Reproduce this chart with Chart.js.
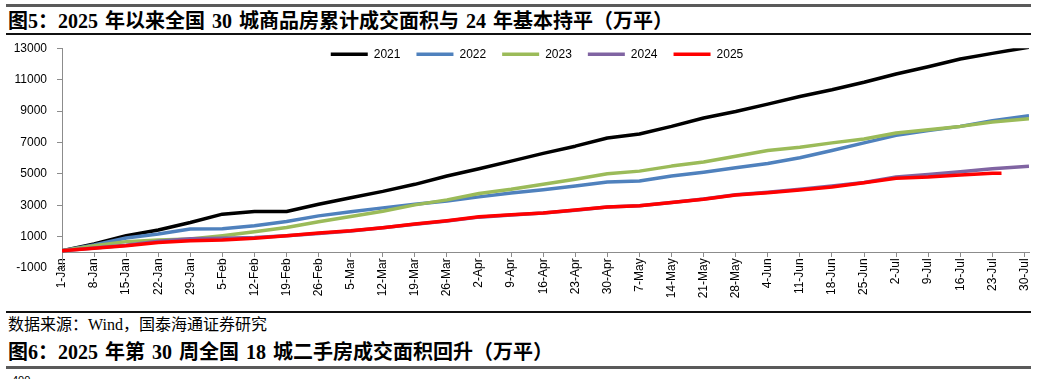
<!DOCTYPE html>
<html>
<head>
<meta charset="utf-8">
<title>图5</title>
<script src="https://cdn.jsdelivr.net/npm/chart.js@4.4.1/dist/chart.umd.min.js"></script>
<style>
  html, body { margin: 0; padding: 0; }
  body { width: 1037px; height: 379px; overflow: hidden; background: #fff; position: relative; }
  .rule { position: absolute; left: 6px; width: 1025px; }
  .heading { position: absolute; left: 8px; white-space: nowrap; color: #000; word-spacing: 2px;
    font: bold 20px "Liberation Serif", "Noto Sans CJK SC", serif; line-height: 24px; }
  .source { position: absolute; left: 8px; top: 315px; white-space: nowrap; color: #000;
    font: 16px "Liberation Serif", "Noto Sans CJK SC", serif; line-height: 20px; }
  .cut { position: absolute; left: 12px; top: 374px; font: 11px "Liberation Sans", sans-serif; color: #000; }
  #wrap { position: absolute; left: 0; top: 31px; width: 1074px; height: 277px; }
</style>
</head>
<body>
<div class="rule" style="top:4px;height:3px;background:#5a5a5a"></div>
<div class="heading" style="top:9px">图5：2025 年以来全国 30 城商品房累计成交面积与 24 年基本持平（万平）</div>
<div class="rule" style="top:33px;height:2px;background:#111"></div>

<div id="wrap"><canvas id="areaChart"></canvas></div>

<div class="rule" style="top:311px;height:2px;background:#111"></div>
<div class="source">数据来源：Wind，国泰海通证券研究</div>
<div class="heading" style="top:340px">图6：2025 年第 30 周全国 18 城二手房成交面积回升（万平）</div>
<div class="rule" style="top:366px;height:3px;background:#5a5a5a"></div>
<div class="cut">400</div>

<script>
// weekly tick labels on the x axis (one every 7 days from 1-Jan)
const tickLabels = ['1-Jan', '8-Jan', '15-Jan', '22-Jan', '29-Jan', '5-Feb', '12-Feb', '19-Feb',
  '26-Feb', '5-Mar', '12-Mar', '19-Mar', '26-Mar', '2-Apr', '9-Apr', '16-Apr', '23-Apr',
  '30-Apr', '7-May', '14-May', '21-May', '28-May', '4-Jun', '11-Jun', '18-Jun', '25-Jun',
  '2-Jul', '9-Jul', '16-Jul', '23-Jul', '30-Jul'];

const seriesNames = ['2021', '2022', '2023', '2024', '2025'];

// day of year (0 = 1-Jan) for each reading
const days = [0, 7, 14, 21, 28, 35, 42, 49, 56, 63, 70, 77, 84, 91, 98, 105, 112, 119, 126,
  133, 140, 147, 154, 161, 168, 175, 182, 189, 196, 203, 211];
const days2025 = [0, 7, 14, 21, 28, 35, 42, 49, 56, 63, 70, 77, 84, 91, 98, 105, 112, 119, 126,
  133, 140, 147, 154, 161, 168, 175, 182, 189, 196, 203, 205];

// cumulative area, 万平
const y2021 = [100, 530, 1060, 1420, 1900, 2430, 2600, 2600, 3060, 3480, 3880, 4330, 4860, 5320,
  5810, 6300, 6760, 7280, 7540, 8020, 8550, 8970, 9440, 9920, 10350, 10830, 11360, 11820,
  12310, 12670, 13070];
const y2022 = [100, 470, 910, 1160, 1480, 1500, 1690, 1960, 2320, 2580, 2830, 3060, 3270, 3530,
  3780, 3990, 4220, 4480, 4540, 4860, 5100, 5380, 5660, 6020, 6480, 6970, 7450, 7750, 8020,
  8380, 8700];
const y2023 = [100, 420, 680, 790, 850, 1060, 1310, 1580, 1940, 2280, 2620, 3020, 3340, 3740,
  4010, 4330, 4650, 5000, 5170, 5490, 5750, 6120, 6480, 6690, 6970, 7220, 7600, 7810, 8020,
  8300, 8500];
const y2024 = [100, 280, 450, 700, 860, 900, 950, 1050, 1200, 1350, 1570, 1790, 2000, 2240,
  2380, 2500, 2680, 2880, 2960, 3170, 3400, 3660, 3830, 4010, 4220, 4440, 4790, 4960, 5130,
  5320, 5480];
const y2025 = [100, 260, 420, 630, 740, 790, 890, 1060, 1230, 1370, 1570, 1800, 2010, 2260,
  2390, 2510, 2690, 2890, 2960, 3170, 3380, 3650, 3800, 3970, 4160, 4430, 4710, 4790, 4920,
  5030, 5040];

const yTicksMin = -1000;
const yTicksMax = 13000;
const yStep = 2000;

const lineColors = ['#000000', '#4F81BD', '#9BBB59', '#8064A2', '#FF0000'];
const axisGrey = '#8c8c8c';
const labelFont = { family: 'Liberation Sans', size: 12 };

// legend sits inside the plot like in the excel chart: keep only a thin strip for it,
// then give it its full box back (centred over the plot) so the items are not clipped
const legendOverlap = {
  id: 'legendOverlap',
  beforeInit(chart) {
    const legend = chart.legend;
    if (!legend) return;
    const fit = legend.fit;
    legend.fit = function () {
      fit.call(this);
      this.height = 16;
    };
  },
  afterLayout(chart) {
    const legend = chart.legend;
    if (!legend) return;
    legend.left = 45;
    legend.width = legend.right - legend.left;
    legend.height = 40;
    legend.bottom = legend.top + 40;
  }
};

function toPoints(xs, ys) {
  return ys.map((v, i) => ({ x: xs[i], y: v }));
}

document.addEventListener('DOMContentLoaded', function () {
  const allValues = [y2021, y2022, y2023, y2024, y2025];
  const datasets = allValues.map((vals, i) => ({
    label: seriesNames[i],
    data: toPoints(i === 4 ? days2025 : days, vals),
    borderColor: lineColors[i],
    backgroundColor: lineColors[i],
    borderWidth: 3.5,
    pointRadius: 0,
    tension: 0,
    borderJoinStyle: 'round',
    order: 5 - i
  }));

  new Chart(document.getElementById('areaChart'), {
    type: 'line',
    data: { datasets: datasets },
    plugins: [legendOverlap],
    options: {
      responsive: true,
      maintainAspectRatio: false,
      animation: false,
      layout: { padding: { left: 0, right: 45, top: 0, bottom: 40 } },
      plugins: {
        legend: {
          position: 'top',
          labels: {
            usePointStyle: true,
            pointStyle: 'line',
            pointStyleWidth: 37,
            padding: 16,
            color: '#000',
            font: labelFont,
            sort: (a, b) => a.datasetIndex - b.datasetIndex
          }
        },
        tooltip: { enabled: false }
      },
      scales: {
        x: {
          type: 'linear',
          position: { y: 0 },
          min: 0,
          max: 211,
          grid: { drawOnChartArea: false, tickLength: 4, color: axisGrey },
          border: { color: axisGrey },
          ticks: {
            stepSize: 7,
            includeBounds: false,
            autoSkip: false,
            minRotation: 90,
            maxRotation: 90,
            padding: 2,
            color: '#000',
            font: labelFont,
            callback: v => tickLabels[Math.round(v / 7)]
          }
        },
        y: {
          min: yTicksMin,
          max: yTicksMax,
          afterFit: s => { s.width = 62; },
          grid: { drawOnChartArea: false, tickLength: 5, color: axisGrey },
          border: { color: axisGrey },
          ticks: { stepSize: yStep, padding: 10, color: '#000', font: labelFont, callback: v => String(v) }
        }
      }
    }
  });
});
</script>
</body>
</html>
